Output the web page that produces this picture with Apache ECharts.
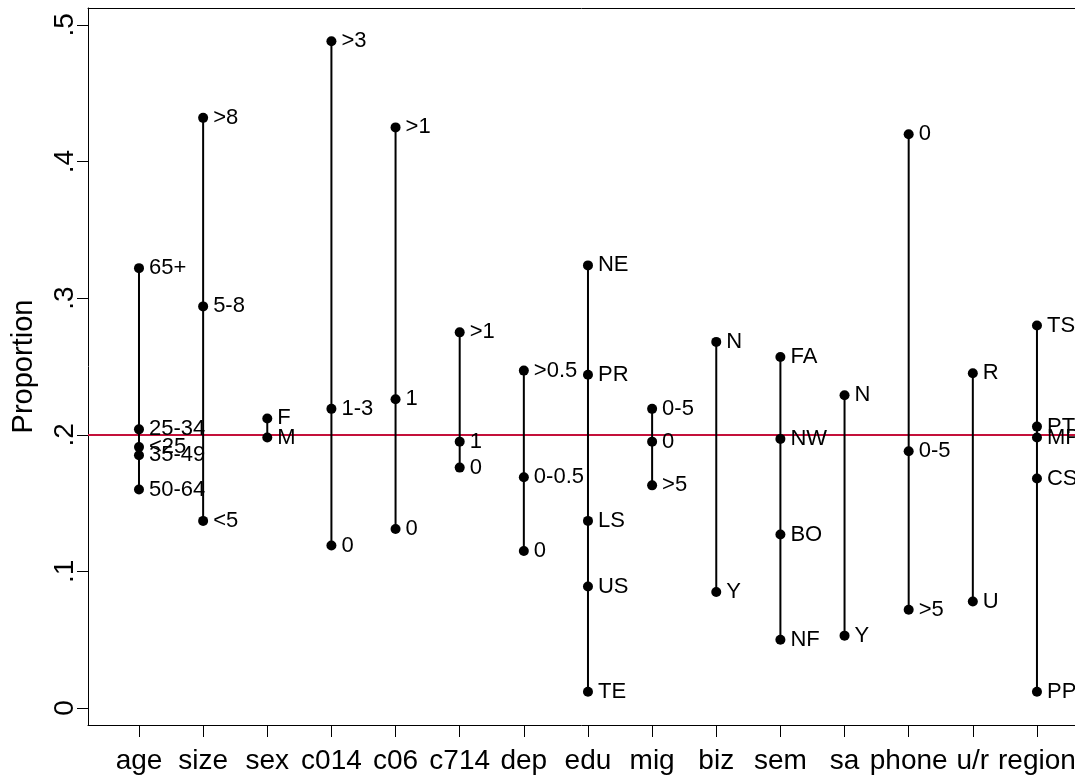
<!DOCTYPE html>
<html>
<head>
<meta charset="utf-8">
<script src="https://cdn.jsdelivr.net/npm/echarts@6/dist/echarts.min.js"></script>
<style>
html,body{margin:0;padding:0;background:#fff;}
#chart{width:1075px;height:777px;}
</style>
</head>
<body>
<div id="chart"></div>
<script>
const categories = ['age','size','sex','c014','c06','c714','dep','edu','mig','biz','sem','sa','phone','u/r','region'];
const yTicks = [0, 0.1, 0.2, 0.3, 0.4, 0.5];
const refValue = 0.2;

const ageLabels = ['65+','25-34','<25','35-49','50-64'];
const ageVals = [0.322, 0.204, 0.191, 0.185, 0.160];
const sizeLabels = ['>8','5-8','<5'];
const sizeVals = [0.432, 0.294, 0.137];
const sexLabels = ['F','M'];
const sexVals = [0.212, 0.198];
const c014Labels = ['>3','1-3','0'];
const c014Vals = [0.488, 0.219, 0.119];
const c06Labels = ['>1','1','0'];
const c06Vals = [0.425, 0.226, 0.131];
const c714Labels = ['>1','1','0'];
const c714Vals = [0.275, 0.195, 0.176];
const depLabels = ['>0.5','0-0.5','0'];
const depVals = [0.247, 0.169, 0.115];
const eduLabels = ['NE','PR','LS','US','TE'];
const eduVals = [0.324, 0.244, 0.137, 0.089, 0.012];
const migLabels = ['0-5','0','>5'];
const migVals = [0.219, 0.195, 0.163];
const bizLabels = ['N','Y'];
const bizVals = [0.268, 0.085];
const semLabels = ['FA','NW','BO','NF'];
const semVals = [0.257, 0.197, 0.127, 0.050];
const saLabels = ['N','Y'];
const saVals = [0.229, 0.053];
const phoneLabels = ['0','0-5','>5'];
const phoneVals = [0.420, 0.188, 0.072];
const urLabels = ['R','U'];
const urVals = [0.245, 0.078];
const regionLabels = ['TS','PT','MP','CS','PP'];
const regionVals = [0.280, 0.206, 0.198, 0.168, 0.012];

const groups = [
  [ageLabels, ageVals], [sizeLabels, sizeVals], [sexLabels, sexVals],
  [c014Labels, c014Vals], [c06Labels, c06Vals], [c714Labels, c714Vals],
  [depLabels, depVals], [eduLabels, eduVals], [migLabels, migVals],
  [bizLabels, bizVals], [semLabels, semVals], [saLabels, saVals],
  [phoneLabels, phoneVals], [urLabels, urVals], [regionLabels, regionVals]
];

const FONT = 'Liberation Sans, Arial, sans-serif';
const xMin = -0.795;
const xMax = 14.593;
const yMin = -0.0124;
const yMax = 0.5124;

const series = groups.map((g, i) => ({
  type: 'line',
  data: g[1].map((v, j) => ({ value: [i, v], name: g[0][j] })),
  symbol: 'circle',
  symbolSize: 10,
  itemStyle: { color: '#000' },
  lineStyle: { color: '#000', width: 2 },
  z: 5,
  label: {
    show: true,
    position: 'right',
    distance: 5,
    formatter: '{b}',
    color: '#000',
    fontSize: 22,
    fontFamily: FONT
  }
}));

series.push({
  type: 'line',
  data: [],
  z: 2,
  markLine: {
    silent: true,
    symbol: 'none',
    label: { show: false },
    lineStyle: { color: '#c4103a', width: 2, type: 'solid' },
    data: [{ yAxis: refValue }]
  }
});

const chart = echarts.init(document.getElementById('chart'), null, { renderer: 'canvas' });
chart.setOption({
  animation: false,
  backgroundColor: '#fff',
  grid: { left: 88, top: 8, right: 0, bottom: 52, show: false, containLabel: false, outerBoundsMode: 'none' },
  xAxis: [{
    type: 'value',
    min: xMin, max: xMax,
    position: 'bottom',
    splitLine: { show: false },
    axisLine: { show: true, onZero: false, lineStyle: { color: '#000', width: 1 } },
    axisTick: { show: true, length: 12, lineStyle: { color: '#000' }, customValues: categories.map((c, i) => i) },
    axisLabel: {
      customValues: categories.map((c, i) => i),
      formatter: v => categories[Math.round(v)],
      hideOverlap: false,
      color: '#000', fontSize: 28, fontFamily: FONT, margin: 22
    }
  }, {
    type: 'value',
    min: xMin, max: xMax,
    position: 'top',
    splitLine: { show: false },
    axisLine: { show: true, onZero: false, lineStyle: { color: '#000', width: 1 } },
    axisTick: { show: false },
    axisLabel: { show: false }
  }],
  yAxis: {
    type: 'value',
    min: yMin, max: yMax,
    name: 'Proportion',
    nameLocation: 'middle',
    nameGap: 50,
    nameRotate: 90,
    nameTextStyle: { color: '#000', fontSize: 29, fontFamily: FONT },
    splitLine: { show: false },
    axisLine: { show: true, onZero: false, lineStyle: { color: '#000', width: 1 } },
    axisTick: { show: true, length: 11, lineStyle: { color: '#000' }, customValues: yTicks },
    axisLabel: {
      customValues: yTicks,
      rotate: 90,
      formatter: v => (v === 0 ? '0' : String(v).replace(/^0\./, '.')),
      color: '#000', fontSize: 28, fontFamily: FONT, margin: 9
    }
  },
  series: series
});
</script>
</body>
</html>
